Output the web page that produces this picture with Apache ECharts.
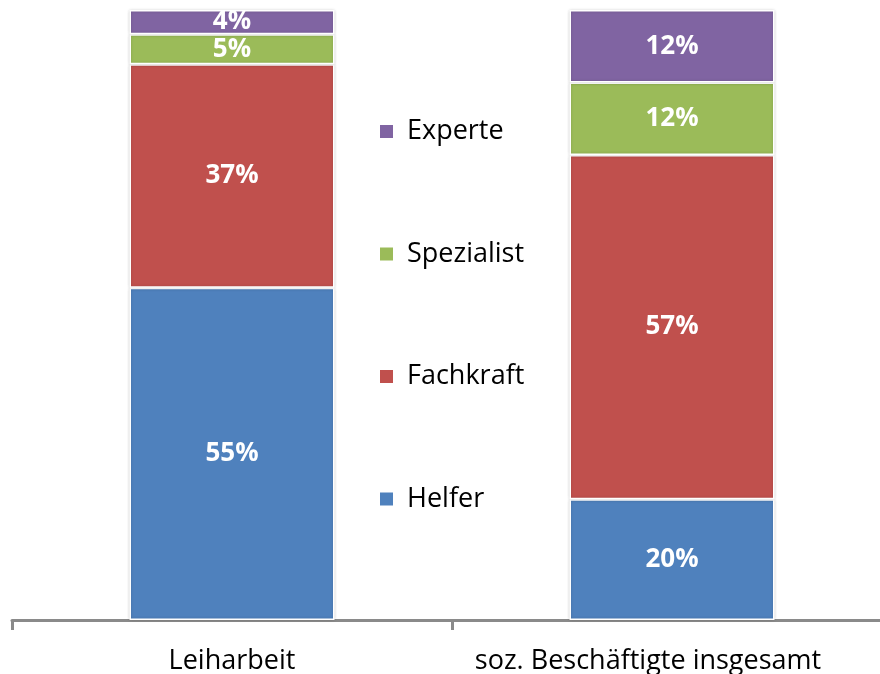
<!DOCTYPE html>
<html>
<head>
<meta charset="utf-8">
<script src="https://cdn.jsdelivr.net/npm/echarts@6/dist/echarts.min.js"></script>
<style>
  html, body { margin: 0; padding: 0; background: #fff; }
  #chart { width: 880px; height: 674px; }
</style>
</head>
<body>
<div id="chart"></div>
<script>
// Daten
const categories = ['Leiharbeit', 'soz. Beschäftigte insgesamt'];
const helfer = [55, 20];
const fachkraft = [37, 57];
const spezialist = [5, 12];
const experte = [4, 12];
const legendOrder = ['Experte', 'Spezialist', 'Fachkraft', 'Helfer'];

const chart = echarts.init(document.getElementById('chart'));

function serie(name, values, color) {
    return {
        name: name,
        type: 'bar',
        stack: 'total',
        barWidth: 205,
        data: values,
        itemStyle: {
            color: color,
            borderColor: '#fff',
            borderWidth: 1.5,
            shadowColor: 'rgba(0,0,0,0.18)',
            shadowBlur: 3
        },
        label: {
            show: true,
            position: 'inside',
            formatter: '{c}%',
            color: '#fff',
            fontWeight: 'bold',
            fontSize: 26,
            fontFamily: 'Open Sans'
        }
    };
}

const option = {
    animation: false,
    backgroundColor: '#fff',
    grid: { left: 12, top: 10, width: 880, bottom: 54, outerBoundsMode: 'none', containLabel: false },
    legend: {
        data: legendOrder,
        orient: 'vertical',
        left: 373,
        top: 113,
        itemWidth: 15,
        itemHeight: 15,
        itemGap: 95.5,
        icon: 'rect',
        textStyle: { fontSize: 27, color: '#000', fontFamily: 'Open Sans', padding: [0, 0, 0, 8] }
    },
    xAxis: {
        type: 'category',
        data: categories,
        axisLine: { lineStyle: { color: '#8a8a8a', width: 3 } },
        axisTick: { show: true, length: 10, lineStyle: { color: '#8a8a8a', width: 3 } },
        axisLabel: {
            color: '#000', fontSize: 27, fontFamily: 'Open Sans', margin: 28, interval: 0, hideOverlap: false,
            // rechte Beschriftung sitzt im Original etwas links
            formatter: (value, idx) => idx === 1 ? '{r|' + value + '}' : value,
            rich: { r: { color: '#000', fontSize: 27, fontFamily: 'Open Sans', padding: [0, 48, 0, 0] } }
        }
    },
    yAxis: {
        type: 'value',
        min: 0,
        max: 101,
        show: false
    },
    series: [
        serie('Helfer', helfer, '#4f81bd'),
        serie('Fachkraft', fachkraft, '#c0504d'),
        serie('Spezialist', spezialist, '#9bbb59'),
        serie('Experte', experte, '#8064a2')
    ]
};

chart.setOption(option);
window.addEventListener('resize', () => chart.resize());
</script>
</body>
</html>
